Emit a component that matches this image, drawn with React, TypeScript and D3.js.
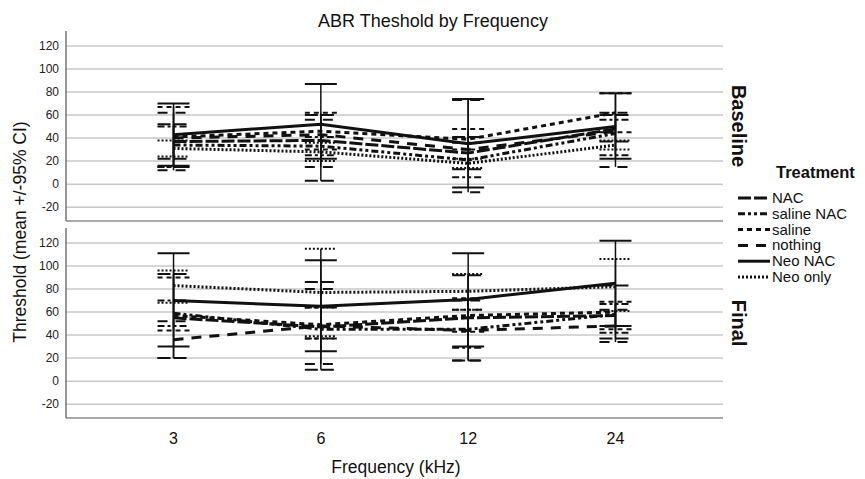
import React from "react";
import * as d3 from "d3";

const frequencies = ["3", "6", "12", "24"];
const treatments = ["NAC", "saline NAC", "saline", "nothing", "Neo NAC", "Neo only"];
const yTicks = [-20, 0, 20, 40, 60, 80, 100, 120];
const panels = ["Baseline", "Final"];

// [mean, lower CI, upper CI] per frequency
const baselineNAC = [[37, 22, 52], [38, 3, 60], [27, 13, 41], [48, 37, 60]];
const baselineSalineNAC = [[34, 15, 50], [33, 25, 41], [21, 6, 36], [44, 25, 56]];
const baselineSaline = [[41, 15, 67], [46, 30, 62], [39, 30, 48], [62, 45, 79]];
const baselineNothing = [[40, 12, 62], [43, 15, 56], [30, -7, 73], [46, 15, 62]];
const baselineNeoNAC = [[43, 16, 70], [52, 22, 87], [35, -3, 74], [50, 22, 79]];
const baselineNeoOnly = [[31, 24, 38], [28, 20, 36], [18, 14, 22], [34, 30, 38]];

const finalNAC = [[55, 20, 93], [47, 10, 86], [55, 18, 92], [57, 37, 83]];
const finalSalineNAC = [[59, 48, 70], [45, 37, 64], [45, 29, 62], [58, 42, 67]];
const finalSaline = [[57, 44, 90], [49, 37, 64], [57, 43, 72], [60, 45, 69]];
const finalNothing = [[36, 20, 52], [48, 15, 80], [44, 18, 70], [48, 34, 62]];
const finalNeoNAC = [[70, 30, 111], [65, 26, 105], [71, 30, 111], [85, 48, 122]];
const finalNeoOnly = [[83, 68, 96], [77, 39, 115], [78, 62, 93], [82, 61, 106]];

const baselineSeries = [baselineNAC, baselineSalineNAC, baselineSaline, baselineNothing, baselineNeoNAC, baselineNeoOnly];
const finalSeries = [finalNAC, finalSalineNAC, finalSaline, finalNothing, finalNeoNAC, finalNeoOnly];

const dashes = ["13,3", "7,3,3,3,3,3", "5,4", "10,8", "none", "2,2"];

const W = 865, H = 479;
const plotLeft = 66, plotRight = 723;
const panelRanges: [number, number][] = [[221, 31], [418, 228]];
const font = "'Liberation Sans', Arial, sans-serif";

export default function App() {
  const x = d3.scalePoint<string>().domain(frequencies).range([plotLeft, plotRight]).padding(0.73);
  const line = (y: d3.ScaleLinear<number, number>) =>
    d3.line<number[]>().x((_, i) => x(frequencies[i]) as number).y((d) => y(d[0]));

  return (
    <svg width={W} height={H} style={{ position: "absolute", left: 0, top: 0, background: "#fff" }} fontFamily={font}>
      <rect width={W} height={H} fill="#fff" />
      <text x={433} y={27} textAnchor="middle" fontSize={18} fill="#111">ABR Theshold by Frequency</text>
      {panels.map((p, pi) => {
        const y = d3.scaleLinear().domain([-32, 133]).range(panelRanges[pi]);
        const series = pi === 0 ? baselineSeries : finalSeries;
        const [bottom, top] = panelRanges[pi];
        return (
          <g key={p}>
            {yTicks.map((t) => (
              <g key={t}>
                <line x1={plotLeft} x2={plotRight} y1={y(t)} y2={y(t)} stroke="#c8c8c8" strokeWidth={1.5} />
                <text x={59} y={y(t) + 4} textAnchor="end" fontSize={12} fill="#222">{t}</text>
              </g>
            ))}
            <line x1={plotLeft} x2={plotLeft} y1={top} y2={bottom} stroke="#555" strokeWidth={1.2} />
            <line x1={plotLeft} x2={plotRight} y1={bottom} y2={bottom} stroke="#555" strokeWidth={1.2} />
            {series.map((s, si) => (
              <g key={si}>
                {s.map((d, i) => {
                  const cx = x(frequencies[i]) as number;
                  return (
                    <g key={i}>
                      <line x1={cx} x2={cx} y1={y(d[1])} y2={y(d[2])} stroke="#111" strokeWidth={1.5} />
                      <line x1={cx - 16} x2={cx + 16} y1={y(d[1])} y2={y(d[1])} stroke="#111" strokeWidth={2} strokeDasharray={dashes[si]} />
                      <line x1={cx - 16} x2={cx + 16} y1={y(d[2])} y2={y(d[2])} stroke="#111" strokeWidth={2} strokeDasharray={dashes[si]} />
                    </g>
                  );
                })}
                <path d={line(y)(s) as string} fill="none" stroke="#111" strokeWidth={3} strokeDasharray={dashes[si]} />
              </g>
            ))}
            <text
              transform={`translate(732, ${(top + bottom) / 2}) rotate(90)`}
              textAnchor="middle"
              fontSize={20}
              fontWeight="bold"
              fill="#111"
            >
              {p}
            </text>
          </g>
        );
      })}
      {frequencies.map((f) => (
        <text key={f} x={x(f) as number} y={444} textAnchor="middle" fontSize={16} fill="#111">{f}</text>
      ))}
      <text x={396} y={473} textAnchor="middle" fontSize={17.5} fill="#111">Frequency (kHz)</text>
      <text transform="translate(26, 232) rotate(-90)" textAnchor="middle" fontSize={17.5} fill="#111">Threshold (mean +/-95% CI)</text>
      <text x={776} y={178} fontSize={16.5} fontWeight="bold" fill="#111">Treatment</text>
      {treatments.map((t, i) => {
        const ly = 198 + i * 15.8;
        return (
          <g key={t}>
            <line x1={738} x2={770} y1={ly} y2={ly} stroke="#111" strokeWidth={3} strokeDasharray={dashes[i]} />
            <text x={772} y={ly + 5} fontSize={15} fill="#111">{t}</text>
          </g>
        );
      })}
    </svg>
  );
}
